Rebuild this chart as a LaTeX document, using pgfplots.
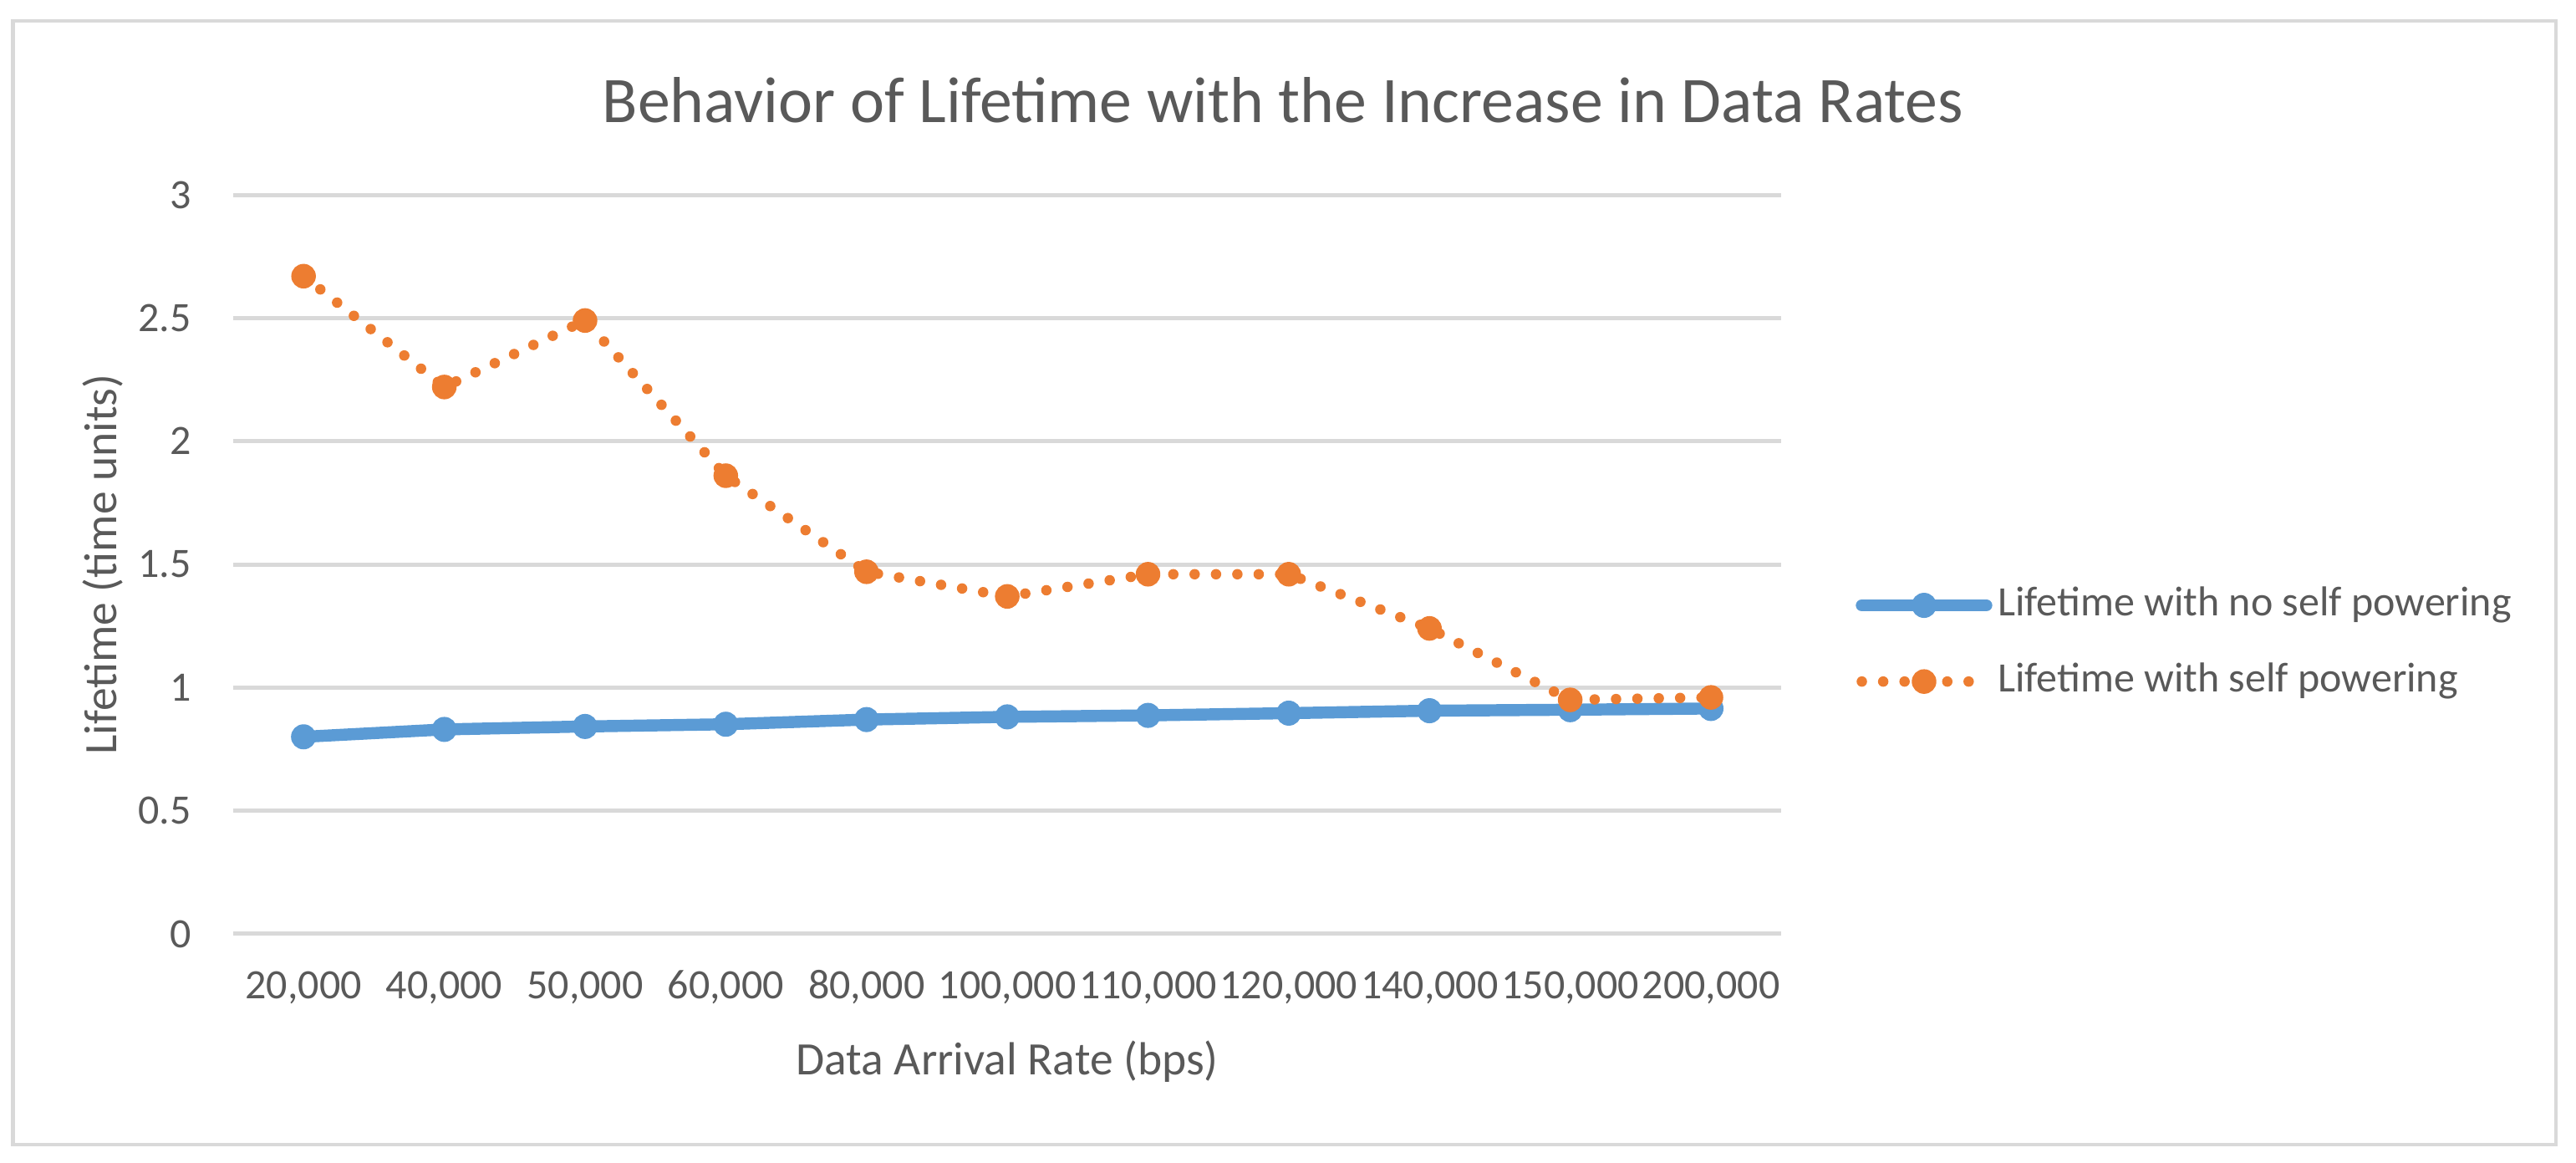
\documentclass[border=0pt]{standalone}
\usepackage{fontspec}
\setmainfont{Carlito}
\usepackage{pgfplots}
\pgfplotsset{compat=1.18}

\definecolor{txtgray}{HTML}{595959}
\definecolor{gridgray}{HTML}{D9D9D9}
\definecolor{xlblue}{HTML}{5B9BD5}
\definecolor{xlorange}{HTML}{ED7D31}

\begin{document}
\begin{tikzpicture}
\path[use as bounding box] (0,0) rectangle (554.76pt,250.38pt);
\draw[gridgray, line width=0.8pt] (2.79pt,3.96pt) rectangle (550.4pt,245.88pt);
\node[text=txtgray, font=\fontsize{14}{16}\selectfont] at (276.3pt,228.8pt)
  {Behavior of Lifetime with the Increase in Data Rates};
\begin{axis}[
  at={(50.22pt,49.32pt)}, anchor=south west,
  scale only axis, width=333.4pt, height=159.1pt,
  xmin=-0.5, xmax=10.5, ymin=0, ymax=3,
  xtick={0,...,10},
  xticklabels={{20,000},{40,000},{50,000},{60,000},{80,000},{100,000},
    {110,000},{120,000},{140,000},{150,000},{200,000}},
  ytick={0,0.5,1,1.5,2,2.5,3},
  yticklabels={0,0.5,1,1.5,2,2.5,3},
  axis line style={draw=none},
  major tick length=0pt,
  ymajorgrids,
  grid style={gridgray, line width=0.9pt},
  clip=false,
  ticklabel style={font=\fontsize{9}{11}\selectfont, text=txtgray},
  xticklabel style={anchor=base, yshift=-14pt},
  yticklabel style={anchor=east, xshift=-5.5pt},
  xlabel={Data Arrival Rate (bps)},
  ylabel={Lifetime (time units)},
  label style={font=\fontsize{10}{12}\selectfont, text=txtgray},
  xlabel style={at={(axis description cs:0.5,-0.173)}, anchor=center},
  ylabel style={at={(axis description cs:-0.0843,0.5)}, anchor=center},
  legend style={
    draw=none, fill=none,
    at={(axis description cs:1,0.393)}, anchor=west, xshift=15.84pt,
    inner sep=0pt, row sep=7.8pt,
    font=\fontsize{9}{11}\selectfont, text=txtgray,
    nodes={inner sep=0pt, text height=6.6pt, text depth=2pt},
    /tikz/column sep=1.2pt,
  },
  legend cell align=left,
  legend image code/.code={
    \draw[mark repeat=2, mark phase=2, #1]
      plot coordinates {(0pt,0pt) (13.4pt,0pt) (26.8pt,0pt)};
  },
]
\addplot[xlblue, line width=2.6pt, line join=round, line cap=round,
  mark=*, mark size=2.5pt,
  mark options={solid, fill=xlblue, draw=xlblue, line width=0.4pt}]
  coordinates {
  (0,0.800) (1,0.830) (2,0.842) (3,0.851) (4,0.870) (5,0.881)
  (6,0.887) (7,0.896) (8,0.906) (9,0.910) (10,0.915)
};
\addlegendentry{Lifetime with no self powering}
\addplot[xlorange, line width=2.25pt, line cap=round,
  dash pattern=on 0pt off 4.6pt,
  mark=*, mark size=2.45pt,
  mark options={solid, fill=xlorange, draw=xlorange, line width=0.4pt}]
  coordinates {
  (0,2.67) (1,2.22) (2,2.49) (3,1.86) (4,1.47) (5,1.37)
  (6,1.46) (7,1.46) (8,1.24) (9,0.95) (10,0.96)
};
\addlegendentry{Lifetime with self powering}
\end{axis}
\end{tikzpicture}
\end{document}
